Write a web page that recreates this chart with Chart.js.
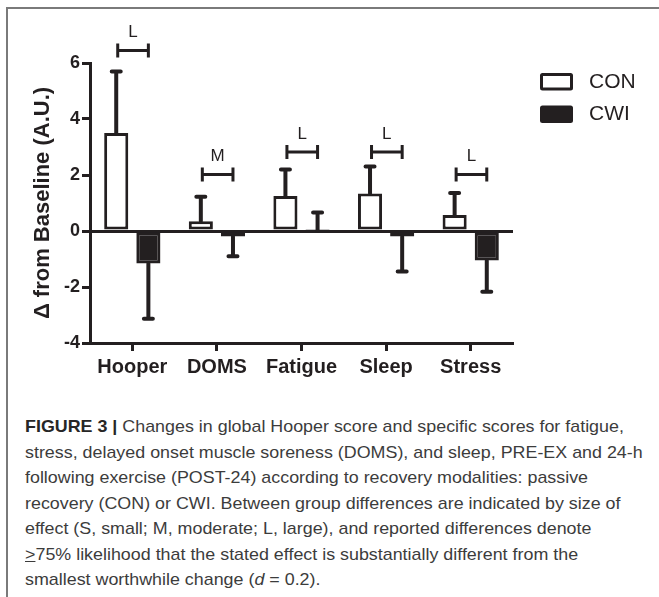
<!DOCTYPE html>
<html>
<head>
<meta charset="utf-8">
<script src="https://cdn.jsdelivr.net/npm/chart.js@4.4.1/dist/chart.umd.min.js"></script>
<style>
  html, body { margin: 0; padding: 0; background: #fff; }
  #wrap { position: relative; width: 659px; height: 597px; overflow: hidden; }
  #frame { position: absolute; left: 6px; top: 7px; width: 700px; height: 700px;
           border-top: 2px solid #7a7a7a; border-left: 2px solid #7a7a7a; }
  #chartBox { position: absolute; left: 0; top: 0; width: 659px; height: 400px; }
  #caption { position: absolute; left: 25px; top: 414px; font-family: "Liberation Sans", Arial, sans-serif;
             font-size: 17px; line-height: 25.5px; color: #3c3c3c; white-space: nowrap; transform-origin: 0 0; }
  #caption div { white-space: nowrap; }
  #caption b { color: #262626; }
</style>
</head>
<body>
<div id="wrap">
  <div id="frame"></div>
  <div id="chartBox"><canvas id="chart" width="659" height="400"></canvas></div>
  <div id="caption">
    <div id="line1"><b>FIGURE 3 |</b> Changes in global Hooper score and specific scores for fatigue,</div>
    <div id="line2">stress, delayed onset muscle soreness (DOMS), and sleep, PRE-EX and 24-h</div>
    <div>following exercise (POST-24) according to recovery modalities: passive</div>
    <div>recovery (CON) or CWI. Between group differences are indicated by size of</div>
    <div>effect (S, small; M, moderate; L, large), and reported differences denote</div>
    <div><span style="text-decoration: underline">&gt;</span>75% likelihood that the stated effect is substantially different from the</div>
    <div>smallest worthwhile change (<i>d</i> = 0.2).</div>
  </div>
</div>
<script>
// values
const categories = ["Hooper", "DOMS", "Fatigue", "Sleep", "Stress"];
const conMean = [3.5, 0.35, 1.25, 1.34, 0.57];
const conSd = [2.2, 0.87, 0.95, 0.96, 0.79];
const cwiMean = [-1.16, -0.2, 0.03, -0.2, -1.05];
const cwiSd = [1.97, 0.7, 0.63, 1.25, 1.12];
const effectLabels = ["L", "M", "L", "L", "L"];
const effectY = [6.45, 2.02, 2.82, 2.82, 2.02];
const yTicks = [-4, -2, 0, 2, 4, 6];

const INK = "#231f20";
const errors = [conSd, cwiSd];

// error bars, one-sided away from zero
const errorBars = {
  id: "errorBars",
  afterDatasetsDraw(chart) {
    const ctx = chart.ctx;
    const y = chart.scales.y;
    ctx.save();
    ctx.strokeStyle = INK;
    ctx.lineWidth = 4;
    ctx.lineCap = "round";
    chart.data.datasets.forEach((ds, d) => {
      chart.getDatasetMeta(d).data.forEach((bar, i) => {
        const v = ds.data[i];
        const end = v >= 0 ? v + errors[d][i] : v - errors[d][i];
        const yEnd = y.getPixelForValue(end);
        ctx.beginPath();
        ctx.moveTo(bar.x, bar.y);
        ctx.lineTo(bar.x, yEnd);
        ctx.moveTo(bar.x - 4.5, yEnd);
        ctx.lineTo(bar.x + 4.5, yEnd);
        ctx.stroke();
      });
    });
    ctx.restore();
  }
};

// effect size brackets above each pair
const brackets = {
  id: "brackets",
  afterDatasetsDraw(chart) {
    const ctx = chart.ctx;
    const y = chart.scales.y;
    const a = chart.getDatasetMeta(0).data;
    const b = chart.getDatasetMeta(1).data;
    ctx.save();
    ctx.strokeStyle = INK;
    ctx.fillStyle = INK;
    ctx.lineWidth = 3;
    ctx.font = "17px 'Liberation Sans', Arial, sans-serif";
    ctx.textAlign = "center";
    ctx.textBaseline = "middle";
    effectLabels.forEach((lab, i) => {
      const x1 = a[i].x + 1.5, x2 = b[i].x;
      const yy = y.getPixelForValue(effectY[i]);
      ctx.beginPath();
      ctx.moveTo(x1, yy); ctx.lineTo(x2, yy);
      ctx.moveTo(x1, yy - 7); ctx.lineTo(x1, yy + 7);
      ctx.moveTo(x2, yy - 7); ctx.lineTo(x2, yy + 7);
      ctx.stroke();
      ctx.fillText(lab, (x1 + x2) / 2, yy - 18);
    });
    ctx.restore();
  }
};

// legend to the right of the plot
const sideLegend = {
  id: "sideLegend",
  afterDraw(chart) {
    const ctx = chart.ctx;
    ctx.save();
    ctx.font = "21px 'Liberation Sans', Arial, sans-serif";
    ctx.textBaseline = "middle";
    chart.data.datasets.forEach((ds, i) => {
      const top = 73 + i * 32.5;
      ctx.fillStyle = ds.borderColor;
      ctx.beginPath();
      ctx.roundRect(540, top, 33, 17.5, 2.5);
      ctx.fill();
      if (ds.backgroundColor !== ds.borderColor) {
        ctx.fillStyle = ds.backgroundColor;
        ctx.fillRect(543, top + 3, 27, 11.5);
      }
      ctx.fillStyle = INK;
      ctx.fillText(ds.label, 589, top + 9);
    });
    ctx.restore();
  }
};

new Chart(document.getElementById("chart"), {
  type: "bar",
  data: {
    labels: categories,
    datasets: [
      { label: "CON", data: conMean, backgroundColor: "#ffffff", borderColor: INK, borderWidth: 3, borderSkipped: false },
      { label: "CWI", data: cwiMean, backgroundColor: INK, borderColor: INK, borderWidth: 3, borderSkipped: false }
    ]
  },
  options: {
    responsive: false,
    animation: false,
    devicePixelRatio: 1,
    categoryPercentage: 0.76,
    barPercentage: 0.75,
    layout: { padding: { top: 63, right: 146, left: 0, bottom: 0 } },
    plugins: { legend: { display: false }, tooltip: { enabled: false } },
    scales: {
      x: {
        afterFit: (s) => { s.height = 57; },
        grid: { offset: false, drawOnChartArea: false, tickLength: 8, tickWidth: 3, tickColor: INK },
        border: { color: INK, width: 3 },
        ticks: { color: INK, padding: 4, font: { family: "'Liberation Sans', Arial, sans-serif", size: 20, weight: "bold" } }
      },
      y: {
        min: yTicks[0],
        max: yTicks[yTicks.length - 1],
        afterFit: (s) => { s.width = 90; },
        afterBuildTicks: (s) => { s.ticks = yTicks.map(v => ({ value: v })); },
        grid: {
          color: (c) => (c.tick && c.tick.value === 0 ? INK : "rgba(0,0,0,0)"),
          lineWidth: 3, tickLength: 8, tickWidth: 3, tickColor: INK
        },
        border: { color: INK, width: 3 },
        ticks: { color: INK, padding: 2, font: { family: "'Liberation Sans', Arial, sans-serif", size: 18, weight: "bold" } },
        title: {
          display: true, text: "\u0394 from Baseline (A.U.)", color: INK,
          padding: { top: 30, bottom: 0 },
          font: { family: "'Liberation Sans', Arial, sans-serif", size: 22, weight: "bold" }
        }
      }
    }
  },
  plugins: [errorBars, brackets, sideLegend]
});

// fit caption width to the original column
const cap = document.getElementById("caption");
const w = document.getElementById("line2").scrollWidth;
cap.style.transform = "scaleX(" + (618 / w) + ")";
</script>
</body>
</html>
